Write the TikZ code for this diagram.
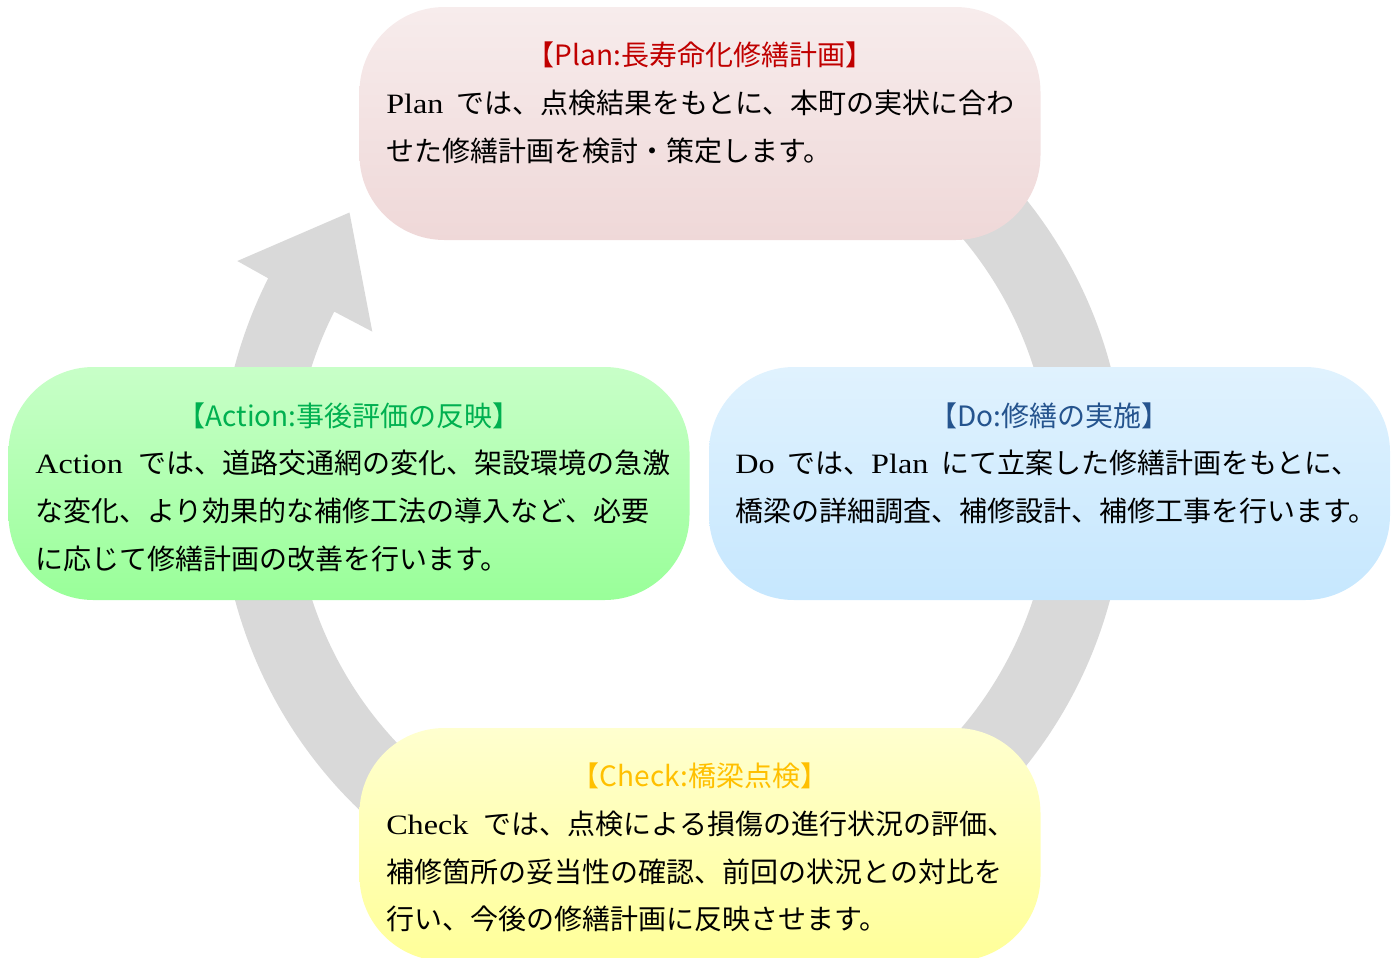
\documentclass[tikz,border=0pt]{standalone}
\usepackage{fontspec}
\setmainfont{Noto Sans CJK JP}
\newfontfamily\lat[FakeStretch=1.15]{Liberation Serif}
\definecolor{ringc}{HTML}{D9D9D9}
\definecolor{planT}{HTML}{F7ECEC}
\definecolor{planB}{HTML}{EFD8D8}
\definecolor{actT}{HTML}{C8FFC8}
\definecolor{actB}{HTML}{99FF99}
\definecolor{doT}{HTML}{E0F2FE}
\definecolor{doB}{HTML}{C6E7FE}
\definecolor{chkT}{HTML}{FFFFCF}
\definecolor{chkB}{HTML}{FFFF99}
\definecolor{planH}{HTML}{C00000}
\definecolor{actH}{HTML}{00B050}
\definecolor{doH}{HTML}{25548E}
\definecolor{chkH}{HTML}{FFC000}
\newcommand{\gapw}{\hspace{0.45em}}
\newcommand{\gapl}{\hspace{0.55em}}
\begin{document}
\begin{tikzpicture}[x=0.75pt,y=-0.75pt,
  box/.style={rounded corners=63.75pt, minimum width=510.75pt, minimum height=174.75pt, inner sep=0pt, draw=none},
  head/.style={anchor=base, font=\fontsize{21}{21}\selectfont, inner sep=0pt},
  body/.style={anchor=base west, font=\fontsize{21}{21}\selectfont, inner sep=0pt, text=black},
]
\useasboundingbox (0,0) rectangle (1394,957);
% ring arrow
\coordinate (c) at (672.5,482.5);
\fill[ringc] ([shift={(c)}]235:453) arc[start angle=235,end angle=566.8,radius=453]
  -- (237.3,261) -- (349.5,212.5) -- (372.3,331.6)
  -- ([shift={(c)}]566.8:379) arc[start angle=566.8,end angle=235,radius=379] -- cycle;
% boxes
\node[box, top color=planT, bottom color=planB] (plan) at (700,123.5) {};
\node[box, top color=actT, bottom color=actB] (act) at (349,483.5) {};
\node[box, top color=doT, bottom color=doB] (do) at (1049.5,483.5) {};
\node[box, top color=chkT, bottom color=chkB] (chk) at (700,844.5) {};
% Plan
\node[head, text=planH] (planh) at (700,65.6) {【Plan:長寿命化修繕計画】};
\node[body] (plan1) at (386,113.6) {{\lat Plan}\gapw では、点検結果をもとに、本町の実状に合わ};
\node[body] (plan2) at (386,161.6) {せた修繕計画を検討・策定します。};
% Action
\node[head, text=actH] (acth) at (349,426.6) {【Action:事後評価の反映】};
\node[body] (act1) at (35,473.6) {{\lat Action}\gapl では、道路交通網の変化、架設環境の急激};
\node[body] (act2) at (35,521.6) {な変化、より効果的な補修工法の導入など、必要};
\node[body] (act3) at (35,569.6) {に応じて修繕計画の改善を行います。};
% Do
\node[head, text=doH] (doh) at (1049.5,426.6) {【Do:修繕の実施】};
\node[body] (do1) at (735,473.6) {{\lat Do}\gapw では、{\lat Plan}\gapw にて立案した修繕計画をもとに、};
\node[body] (do2) at (735,521.6) {橋梁の詳細調査、補修設計、補修工事を行います。};
% Check
\node[head, text=chkH] (chkh) at (700,786.6) {【Check:橋梁点検】};
\node[body] (chk1) at (386,834.6) {{\lat Check}\gapl では、点検による損傷の進行状況の評価、};
\node[body] (chk2) at (386,882.6) {補修箇所の妥当性の確認、前回の状況との対比を};
\node[body] (chk3) at (386,929.6) {行い、今後の修繕計画に反映させます。};
\end{tikzpicture}
\end{document}
